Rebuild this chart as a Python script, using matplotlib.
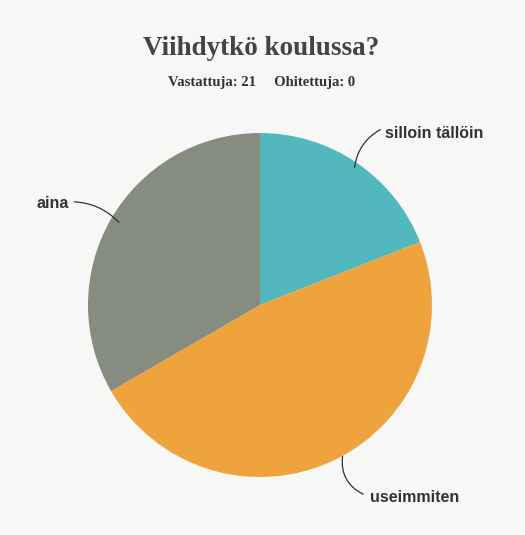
import matplotlib.pyplot as plt

# Survey answers (21 respondents)
labels = ['silloin tällöin', 'useimmiten', 'aina']
counts = [4, 10, 7]
colors = ['#52b8be', '#eea33c', '#878c80']

fig = plt.figure(figsize=(5.25, 5.35), dpi=100)
fig.patch.set_facecolor('#f7f7f6')

# title + respondent line
fig.text(0.498, 0.91, 'Viihdytkö koulussa?', ha='center', va='center',
         family='Liberation Serif', weight='bold', fontsize=19.5, color='#444444')
fig.text(0.498, 0.845, 'Vastattuja: %d     Ohitettuja: 0' % sum(counts), ha='center', va='center',
         family='Liberation Serif', weight='bold', fontsize=10.5, color='#333333')

ax = fig.add_axes([0.1676, 0.1084, 0.6552, 0.643])
wedges, _ = ax.pie(counts, colors=colors, startangle=90, counterclock=False,
                   radius=1.0, wedgeprops=dict(linewidth=0))
ax.set_xlim(-1, 1)
ax.set_ylim(-1, 1)
ax.axis('off')

lbl_font = dict(family='Liberation Sans', weight='bold', fontsize=11.5, color='#333333')

ax.text(0.725, 1.0, labels[0], ha='left', va='center', **lbl_font)
ax.text(0.64, -1.12, labels[1], ha='left', va='center', **lbl_font)
ax.text(-1.11, 0.59, labels[2], ha='right', va='center', **lbl_font)

# curved leader lines
def leader(p0, p1, rad):
    ax.annotate('', xy=p1, xytext=p0, annotation_clip=False,
                arrowprops=dict(arrowstyle='-', color='#333333', lw=0.9,
                                connectionstyle='arc3,rad=%s' % rad, shrinkA=0, shrinkB=0))

leader((0.70, 1.02), (0.55, 0.80), 0.25)
leader((0.48, -0.88), (0.6, -1.1), 0.35)
leader((-1.08, 0.6), (-0.82, 0.48), -0.2)

plt.savefig('out.png', dpi=100, facecolor=fig.get_facecolor())
